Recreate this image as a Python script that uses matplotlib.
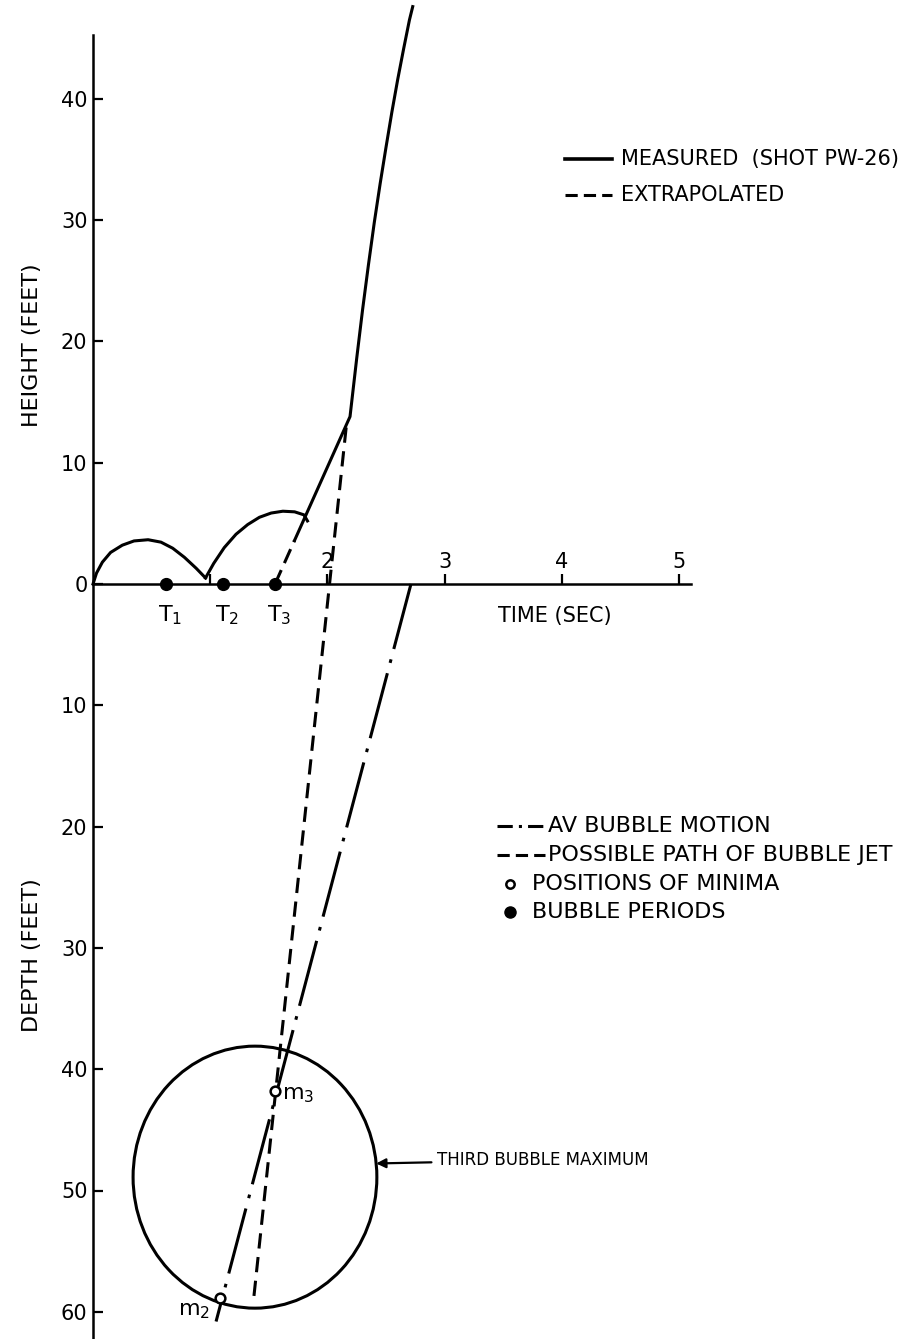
import math
import matplotlib
matplotlib.use("Agg")
import matplotlib.pyplot as plt
from matplotlib.patches import Ellipse

# ---- values: time (sec), height (+) / depth (-) in feet ----
arch1_t = [0.00, 0.03, 0.08, 0.15, 0.25, 0.35, 0.47, 0.58, 0.68, 0.78, 0.88, 0.96]
arch1_h = [0.0, 0.9, 1.8, 2.6, 3.2, 3.55, 3.65, 3.45, 2.95, 2.2, 1.3, 0.5]
arch2_t = [0.96, 1.03, 1.12, 1.22, 1.32, 1.42, 1.52, 1.62, 1.72, 1.80, 1.83]
arch2_h = [0.5, 1.7, 3.0, 4.1, 4.9, 5.5, 5.85, 6.0, 5.95, 5.7, 5.2]
rise_t = [1.72, 2.193, 2.25, 2.30, 2.35, 2.40, 2.45, 2.50, 2.55, 2.60, 2.65, 2.70, 2.728]
rise_h = [3.6, 13.8, 18.6, 22.6, 26.3, 29.8, 33.0, 36.0, 38.9, 41.6, 44.1, 46.5, 47.6]
extrap_t = [1.553, 1.72]
extrap_h = [0.0, 3.6]
jet_t = [2.16, 1.37]
jet_h = [12.9, -59.0]
av_t = [2.713, 1.05]
av_h = [0.0, -60.8]
minima_t = [1.553, 1.084]
minima_h = [-41.8, -58.9]
period_t = [0.62, 1.11, 1.553]
period_lbl = ["T$_1$", "T$_2$", "T$_3$"]
bubble_t, bubble_h = 1.382, -48.9      # third bubble maximum (centre)
bubble_rt, bubble_rh = 1.04, 10.8      # half width (sec), half height (ft)
height_ticks = [0, 10, 20, 30, 40]
depth_ticks = [10, 20, 30, 40, 50, 60]
time_ticks = [1, 2, 3, 4, 5]

plt.rcParams["font.family"] = ["DejaVu Sans"]

W, H = 921, 1339
X0, Y0, SX, SY = 93, 584, 117.2, 12.13   # pixel origin and pixels per unit
LW = 2.2


def px(x, y):
    """pixel position in the picture -> figure fraction"""
    return x / W, 1 - y / H


fig = plt.figure(figsize=(W / 100, H / 100), dpi=100, facecolor="white")
ax = fig.add_axes([0, 0, 1, 1])
ax.set_xlim(-X0 / SX, (W - X0) / SX)
ax.set_ylim(-(H - Y0) / SY, Y0 / SY)
ax.patch.set_visible(False)

# axes drawn as spines crossing at the origin
for s in ("right", "bottom"):
    ax.spines[s].set_visible(False)
ax.spines["left"].set_position(("data", 0))
ax.spines["left"].set_bounds(-(H - Y0) / SY, 45.3)
ax.spines["top"].set_position(("data", 0))
ax.spines["top"].set_bounds(0, 5.1)
for s in ("left", "top"):
    ax.spines[s].set_linewidth(1.8)

ax.xaxis.set_ticks_position("top")
ax.set_xticks(time_ticks)
ax.set_xticklabels(["" if t == 1 else str(t) for t in time_ticks])
ax.tick_params(axis="x", direction="out", length=7, width=1.6, pad=2, labelsize=15)

ax.yaxis.set_ticks_position("left")
ax.set_yticks(height_ticks + [-d for d in depth_ticks])
ax.set_yticklabels([str(v) for v in height_ticks] + [str(d) for d in depth_ticks])
ax.tick_params(axis="y", direction="in", length=7, width=1.6, pad=4, labelsize=15)

# measured / extrapolated record
ax.plot(arch1_t, arch1_h, color="k", lw=LW)
ax.plot(arch2_t, arch2_h, color="k", lw=LW)
ax.plot(rise_t, rise_h, color="k", lw=LW)
ax.plot(extrap_t, extrap_h, color="k", lw=LW, dashes=(5, 2.5))

# bubble jet and average motion
ax.plot(jet_t, jet_h, color="k", lw=LW, dashes=(5, 2.8))
ax.plot(av_t, av_h, color="k", lw=LW, dashes=(22, 3.5, 1.2, 3.5))

# third bubble maximum
ax.add_patch(Ellipse((bubble_t, bubble_h), 2 * bubble_rt, 2 * bubble_rh,
                     fill=False, ec="k", lw=LW))

# bubble periods and minima
ax.plot(period_t, [0] * len(period_t), "o", ms=8.5, color="k", zorder=5)
for t, lbl in zip(period_t, period_lbl):
    ax.annotate(lbl, (t, 0), xytext=(3, -14), textcoords="offset points",
                ha="center", va="top", fontsize=16)
ax.plot(minima_t, minima_h, "o", ms=7, mfc="white", mec="k", mew=1.8, zorder=5)
ax.annotate("m$_3$", (minima_t[0], minima_h[0]), xytext=(5, -3),
            textcoords="offset points", ha="left", va="center", fontsize=16)
ax.annotate("m$_2$", (minima_t[1], minima_h[1]), xytext=(-7, -9),
            textcoords="offset points", ha="right", va="center", fontsize=16)

ang = math.radians(6)
ax.annotate("THIRD BUBBLE MAXIMUM",
            (bubble_t + bubble_rt * math.cos(ang), bubble_h + bubble_rh * math.sin(ang)),
            xytext=px(437, 1160), textcoords="figure fraction",
            ha="left", va="center", fontsize=12,
            arrowprops=dict(arrowstyle="-|>", color="k", lw=1.6,
                            mutation_scale=14, shrinkA=2, shrinkB=0))

# axis titles
fig.text(*px(32, 345), "HEIGHT (FEET)", rotation=90, ha="center", va="center", fontsize=16)
fig.text(*px(32, 955), "DEPTH (FEET)", rotation=90, ha="center", va="center", fontsize=16)
fig.text(*px(555, 616), "TIME (SEC)", ha="center", va="center", fontsize=15)

# upper key
kx = [px(565, 0)[0], px(612, 0)[0]]
ax.plot(kx, [px(0, 159)[1]] * 2, color="k", lw=2.6, transform=ax.transAxes)
ax.plot(kx, [px(0, 195)[1]] * 2, color="k", lw=LW, dashes=(4, 2), transform=ax.transAxes)
fig.text(*px(621, 159), "MEASURED  (SHOT PW-26)", ha="left", va="center", fontsize=15)
fig.text(*px(621, 195), "EXTRAPOLATED", ha="left", va="center", fontsize=15)

# lower key
kx = [px(497, 0)[0], px(545, 0)[0]]
ax.plot(kx, [px(0, 826)[1]] * 2, color="k", lw=LW, dashes=(5, 2, 1, 2), transform=ax.transAxes)
ax.plot(kx, [px(0, 855)[1]] * 2, color="k", lw=LW, dashes=(4, 2), transform=ax.transAxes)
ax.plot(*px(510, 884), "o", ms=6, mfc="white", mec="k", mew=1.8, transform=ax.transAxes)
ax.plot(*px(510, 912), "o", ms=8, color="k", transform=ax.transAxes)
fig.text(*px(548, 826), "AV BUBBLE MOTION", ha="left", va="center", fontsize=16)
fig.text(*px(548, 855), "POSSIBLE PATH OF BUBBLE JET", ha="left", va="center", fontsize=16)
fig.text(*px(532, 884), "POSITIONS OF MINIMA", ha="left", va="center", fontsize=16)
fig.text(*px(532, 912), "BUBBLE PERIODS", ha="left", va="center", fontsize=16)

fig.savefig("out.png", dpi=100, facecolor="white")
